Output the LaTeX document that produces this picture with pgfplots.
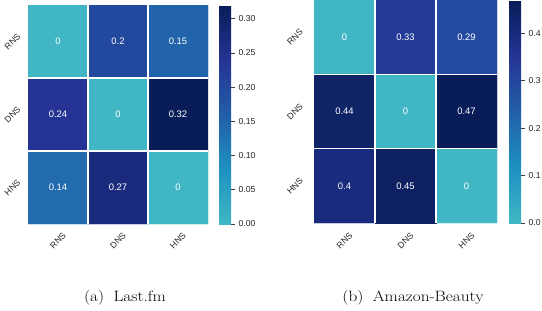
\documentclass[border=0pt]{standalone}
\usepackage{fontspec}
\usepackage{graphicx}
\usepackage{pgfplots}
\usepackage{pgfplotstable}
\pgfplotsset{compat=1.18}
\newfontfamily\arial{Liberation Sans}

\pgfplotstableread{
x y v
0 0 0
1 0 0.2
2 0 0.15
0 1 0.24
1 1 0
2 1 0.32
0 2 0.14
1 2 0.27
2 2 0
}\lastfm

\pgfplotstableread{
x y v
0 0 0
1 0 0.33
2 0 0.29
0 1 0.44
1 1 0
2 1 0.47
0 2 0.4
1 2 0.45
2 2 0
}\beauty

\pgfplotsset{
  colormap={ylgnbu}{rgb255=(65,182,196) rgb255=(29,145,192) rgb255=(34,94,168) rgb255=(37,52,148) rgb255=(8,29,88)},
  hm/.style={
    scale only axis,
    anchor=south west,
    enlargelimits=false,
    xmin=-0.5, xmax=2.5, ymin=-0.5, ymax=2.5,
    y dir=reverse,
    xtick={0,1,2}, ytick={0,1,2},
    xticklabels={RNS,DNS,HNS}, yticklabels={RNS,DNS,HNS},
    minor xtick={0.5,1.5}, minor ytick={0.5,1.5},
    xminorgrids, yminorgrids,
    minor grid style={white, line width=1.5bp},
    major tick length=0pt, minor tick length=0pt,
    axis on top,
    axis line style={draw=none},
    ticklabel style={font=\arial\fontsize{8.7}{10}\selectfont, text=black!85},
    colorbar,
    colormap name=ylgnbu,
  },
  cb/.style={
    at={(parent axis.north east)}, anchor=north west,
    axis line style={draw=none},
    yticklabel pos=right,
    ytick pos=right,
    tick align=outside,
    major tick length=4bp,
    ytick style={draw=black!75, line width=0.6pt},
    yticklabel style={font=\arial\fontsize{8.7}{10}\selectfont, text=black!85,
      /pgf/number format/.cd, fixed, fixed zerofill, assume math mode=true},
  },
  cell/.style={
    matrix plot*,
    mesh/cols=3,
    point meta=explicit,
    nodes near coords={\arial\pgfmathprintnumber[assume math mode=true]{\pgfplotspointmeta}},
    every node near coord/.append style={anchor=center, text=white, font=\arial\fontsize{9.5}{11}\selectfont},
  },
}

\begin{document}
\begin{tikzpicture}[x=1bp,y=1bp]
\path[use as bounding box] (0,0) rectangle (542,-310);

\begin{axis}[hm,
  at={(28bp,-224bp)}, width=180bp, height=219bp,
  xticklabel style={yshift=-16.5bp, rotate=45, anchor=center},
  yticklabel style={xshift=-15.5bp, rotate=45, anchor=center},
  point meta min=0, point meta max=0.32,
  colorbar style={cb, xshift=2.5bp, width=12bp,
    ytick={0,0.05,0.10,0.15,0.20,0.25,0.30},
    yticklabel style={/pgf/number format/precision=2}},
]
\addplot[cell] table[x=x, y=y, meta=v] {\lastfm};
\end{axis}

\begin{axis}[hm,
  at={(314bp,-223bp)}, width=183bp, height=223bp,
  xticklabel style={yshift=-17.5bp, rotate=45, anchor=center},
  yticklabel style={xshift=-19bp, rotate=45, anchor=center},
  point meta min=0, point meta max=0.47,
  colorbar style={cb, xshift=3.5bp, width=12bp,
    ytick={0,0.1,0.2,0.3,0.4},
    yticklabel style={/pgf/number format/precision=1}},
]
\addplot[cell] table[x=x, y=y, meta=v] {\beauty};
\end{axis}

\node[font=\fontsize{15}{17}\selectfont, anchor=base, inner sep=0pt] at (125,-301) {\scalebox{1.15}[1]{(a)\hspace{0.55em}Last.fm}};
\node[font=\fontsize{15}{17}\selectfont, anchor=base, inner sep=0pt] at (413,-301) {\scalebox{1.15}[1]{(b)\hspace{0.55em}Amazon-Beauty}};
\end{tikzpicture}
\end{document}
